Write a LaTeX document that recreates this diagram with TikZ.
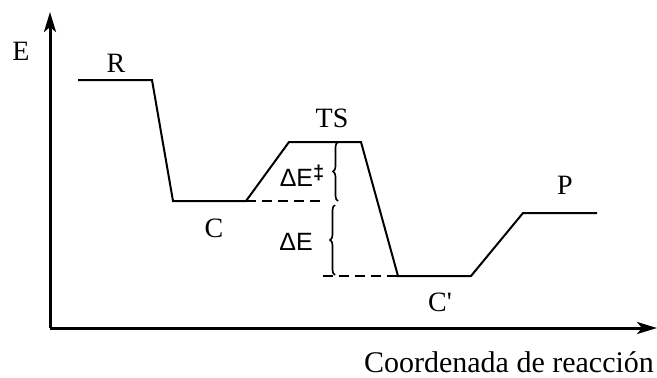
\documentclass[tikz,border=0pt]{standalone}
\usepackage{fontspec}
\setmainfont{Liberation Serif}
\newfontfamily\sanslabel{Liberation Sans}
\usetikzlibrary{arrows.meta,decorations.pathreplacing}

\begin{document}
\begin{tikzpicture}[x=1pt,y=-1pt,>={Stealth[length=20pt,width=12pt,inset=5pt]},
  font=\fontsize{28}{30}\selectfont,
  level/.style={line width=2pt,line join=miter},
  guide/.style={line width=2pt,dash pattern=on 10pt off 6pt},
  gap/.style={line width=1.6pt,decorate,decoration={brace,amplitude=5pt}},
  tag/.style={anchor=base,inner sep=0pt},
  energy/.style={inner sep=0pt,font=\sanslabel\fontsize{25}{27}\selectfont}]
  \useasboundingbox (0,0) rectangle (657,378);
  % axes
  \coordinate (origin) at (50,328);
  \coordinate (ytip) at (50,12);
  \coordinate (xtip) at (657,328);
  \draw[->,line width=3pt] (origin) -- (ytip);
  \draw[->,line width=3pt] (origin) -- (xtip);
  \node[tag] (ylab) at (21,60) {E};
  \node[tag,font=\fontsize{30}{32}\selectfont] (xlab) at (509,372) {Coordenada de reacción};
  % energy profile
  \foreach \name/\x/\y in {r1/78/80,r2/152/80,c1/173/201,c2/246/201,
      ts1/289/142,ts2/361/142,cp1/398/276,cp2/471/276,p1/523/213,p2/597/213}
    \coordinate (\name) at (\x,\y);
  \draw[level] (r1) -- (r2) -- (c1) -- (c2) -- (ts1) -- (ts2) -- (cp1) -- (cp2) -- (p1) -- (p2);
  \node[tag] (lblR) at (116,72) {R};
  \node[tag] (lblC) at (214,237) {C};
  \node[tag] (lblTS) at (332,127) {TS};
  \node[tag] (lblCp) at (440,311) {C\textquotesingle};
  \node[tag] (lblP) at (565,194) {P};
  % barrier and reaction energy
  \coordinate (dashC) at (320,201);
  \coordinate (dashCp) at (323,276);
  \draw[guide] (c2) -- (dashC);
  \draw[guide] (dashCp) -- (cp1);
  \coordinate (upTop) at (338,142);
  \coordinate (upLow) at (338,201);
  \coordinate (dnTop) at (335,205);
  \coordinate (dnLow) at (335,275);
  \draw[gap] (upLow) -- (upTop);
  \draw[gap] (dnLow) -- (dnTop);
  \node[energy] (barrier) at (302,176) {ΔE\raisebox{7pt}{\fontsize{20}{20}\selectfont\bfseries ‡}};
  \node[energy] (reaction) at (296,242) {ΔE};
\end{tikzpicture}
\end{document}
